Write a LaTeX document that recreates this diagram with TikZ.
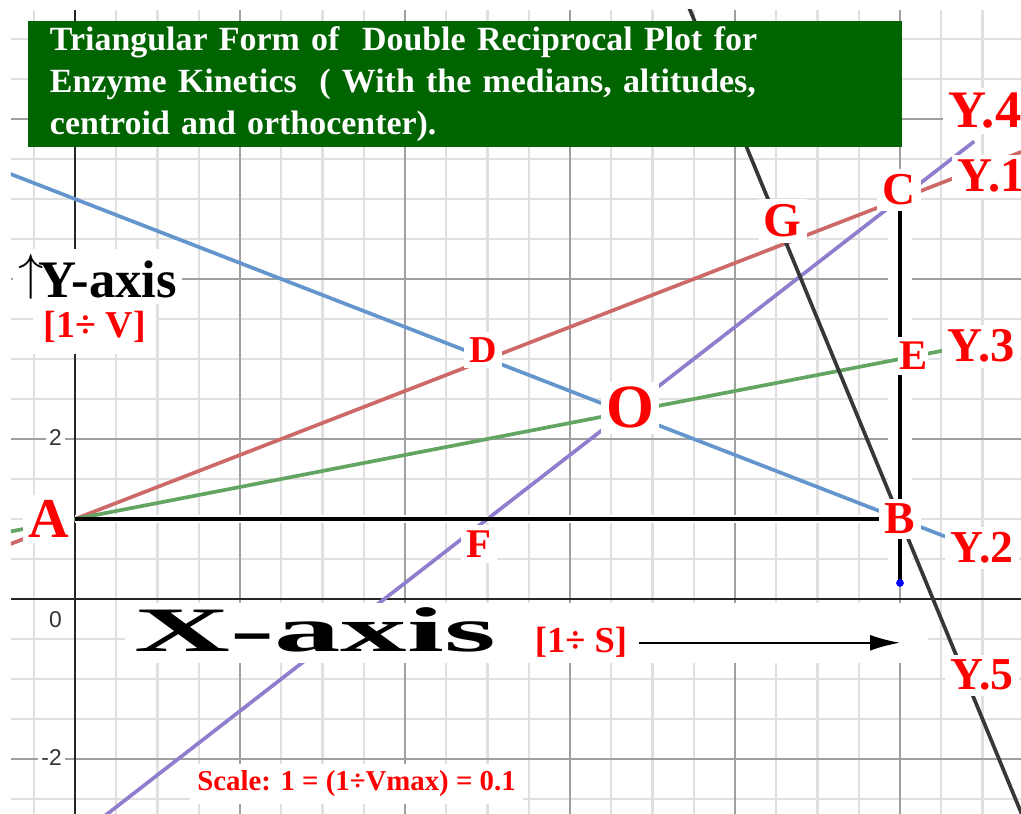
\documentclass[tikz,border=0pt]{standalone}
\usepackage{fontspec}
\setmainfont{Liberation Serif}
\setsansfont{Liberation Sans}
\usepackage{xcolor}
\usepackage{graphicx}
\usetikzlibrary{arrows.meta, positioning}

\definecolor{titlegreen}{RGB}{0,100,0}
\definecolor{lnred}{RGB}{205,105,105}
\definecolor{lnblue}{RGB}{100,150,205}
\definecolor{lngreen}{RGB}{100,165,100}
\definecolor{lnpurple}{RGB}{145,125,205}
\definecolor{lnblack}{RGB}{55,55,55}
\definecolor{gridminor}{RGB}{224,224,224}
\definecolor{gridmajor}{RGB}{160,160,160}

\newcommand{\fsz}[1]{\fontsize{#1}{#1}\selectfont}

\begin{document}
\begin{tikzpicture}[
  x=0.825cm, y=0.8cm,
  >={Latex[length=8.5pt, width=4.5pt]},
  minorgrid/.style={draw=gridminor, line width=0.65pt},
  majorgrid/.style={draw=gridmajor, line width=0.7pt},
  axisline/.style={draw=black!85, line width=0.8pt},
  fitline/.style={line width=1.05pt},
  sideline/.style={draw=black, line width=1.15pt},
  halo/.style={draw=white, line width=#1},
  plab/.style={text=red, fill=white, inner sep=1.5pt, font=\fsz{#1}\bfseries},
  ylab/.style={text=red, fill=white, inner sep=1.5pt, anchor=base west, font=\fsz{#1}\bfseries},
  ticklab/.style={fill=white, inner sep=1pt, anchor=east, text=black!80, font=\sffamily\fsz{6.5}},
  titlebox/.style={fill=titlegreen, text=white, align=left, text width=8.30cm,
    inner xsep=0.22cm, inner ysep=0pt, minimum height=1.26cm, font=\fontsize{9.65}{11.95}\selectfont\bfseries},
]
  \path[use as bounding box] (-0.909,-2.6875) rectangle (11.467,7.4875);
  \clip (-0.776,-2.6875) rectangle (11.467,7.3625);

  % grid and axes
  \draw[minorgrid, xstep=0.5, ystep=0.5] (-0.776,-2.6875) grid (11.467,7.3625);
  \draw[majorgrid, step=2] (-0.776,-2.6875) grid (11.467,7.3625);
  \draw[axisline] (-0.776,0) -- (11.467,0);
  \draw[axisline] (0,-2.6875) -- (0,7.3625);

  % triangle points
  \coordinate (A) at (0,1);
  \coordinate (B) at (10,1);
  \coordinate (C) at (10,5);
  \coordinate (D) at (5,3);
  \coordinate (E) at (10,3);
  \coordinate (F) at (5,1);
  \coordinate (O) at (6.667,2.333);
  \coordinate (G) at (8.621,4.448);
  \coordinate (Bfoot) at (10,0.2);

  % line ends
  \coordinate (y1a) at (-0.9,0.64);
  \coordinate (y1b) at (11.6,5.64);
  \coordinate (y2a) at (-0.9,5.36);
  \coordinate (y2b) at (10.6,0.76);
  \coordinate (y3a) at (-0.9,0.82);
  \coordinate (y3b) at (10.6,3.12);
  \coordinate (y4a) at (0.2,-2.84);
  \coordinate (y4b) at (10.9,5.72);
  \coordinate (y5a) at (7.3,7.75);
  \coordinate (y5b) at (11.6,-3);

  \draw[halo=7pt] (C) -- (Bfoot);
  \draw[halo=2.5pt] (A) -- (B);

  \draw[fitline, lnred] (y1a) -- (y1b);
  \draw[fitline, lnblue] (y2a) -- (y2b);
  \draw[fitline, lngreen] (y3a) -- (y3b);
  \draw[fitline, lnpurple] (y4a) -- (y4b);
  \draw[fitline, lnblack] (y5a) -- (y5b);

  \draw[sideline] (A) -- (B);
  \draw[sideline] (C) -- (Bfoot);
  \fill[blue] (Bfoot) circle (1.1pt);

  % axis captions
  \fill[white] (0.606,-0.05) rectangle (10.339,-0.8);
  \node[anchor=base, font=\fsz{18}\bfseries] (xaxis) at (2.909,-0.6625) {\scalebox{2.1}[1]{X-axis}};
  \node[anchor=base, text=red, font=\fsz{10.4}\bfseries] (xs) at (6.133,-0.675) {[1÷ S]};
  \coordinate (xend) at (10,0);
  \draw[->, line width=0.55pt] (xs.east) -- (xs.east -| xend);

  \node[anchor=base west, fill=white, inner sep=1.5pt, font=\fsz{15}\bfseries] (yaxis) at (-0.76,3.7625)
    {\raisebox{2.5pt}{\fsz{13.5}$\uparrow$}\kern-1.5pt Y-axis};
  \node[anchor=base, fill=white, inner sep=3pt, text=red, font=\fsz{10.8}\bfseries] (yv) at (0.242,3.2625) {[1÷ V]};

  \node[anchor=base, fill=white, inner sep=2pt, text=red, font=\fsz{8.2}\bfseries] (scale) at (3.412,-2.4)
    {Scale: 1 = (1÷Vmax) = 0.1};

  \node[ticklab] (t2) at (-0.109,2.0125) {2};
  \node[ticklab] (t0) at (-0.109,-0.2625) {0};
  \node[ticklab] (tm2) at (-0.109,-1.9875) {-2};

  % point labels
  \node[plab=16, anchor=east] (labA) at (A) {A};
  \node[plab=13] (labB) at (B) {B};
  \node[plab=13] (labC) at (9.988,5.1125) {C};
  \node[plab=13.8] (labG) at (8.58,4.725) {G};
  \node[plab=10.8] (labD) at (4.945,3.11) {D};
  \node[plab=12, inner xsep=0.3pt] (labE) at (10.16,3.04) {E};
  \node[plab=11.6] (labF) at (4.897,0.6875) {F};
  \node[plab=17.5] (labO) at (6.727,2.39) {O};

  \node[ylab=15] (lab4) at (10.518,5.8875) {Y.4};
  \node[ylab=13.8] (lab1) at (10.627,5.0875) {Y.1};
  \node[ylab=13.8] (lab3) at (10.505,2.9625) {Y.3};
  \node[ylab=13] (lab2) at (10.542,0.45) {Y.2};
  \node[ylab=13] (lab5) at (10.542,-1.1375) {Y.5};

  % title
  \node[titlebox, minimum width=8.74cm] (title) at (4.727,6.4375) {Triangular Form of~ Double Reciprocal Plot for\\
    Enzyme Kinetics~ ( With the medians, altitudes,\\
    centroid and orthocenter).};
\end{tikzpicture}
\end{document}
